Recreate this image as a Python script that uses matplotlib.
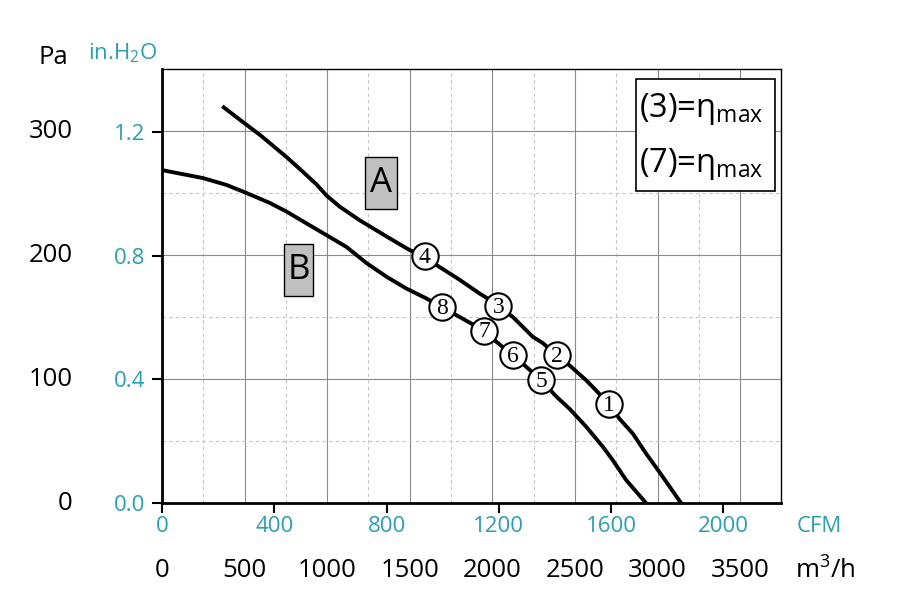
import numpy as np
import matplotlib
matplotlib.use("Agg")
import matplotlib.pyplot as plt
from matplotlib.patches import Rectangle
import matplotlib.transforms as mtransforms

plt.rcParams['font.family'] = ['Open Sans', 'DejaVu Sans']
plt.rcParams['mathtext.fontset'] = 'custom'
plt.rcParams['mathtext.rm'] = 'Open Sans'

TEAL = '#2a9db0'
CFM_TO_M3H = 1.699
INH2O_TO_PA = 249.09

# curve A (m3/h, Pa)
a_flow = [365, 502, 592, 754, 854, 935, 996, 1076, 1197, 1359, 1499, 1590, 1661,
          1802, 1922, 1983, 2037, 2124, 2245, 2305, 2392, 2467, 2568, 2648, 2703,
          2769, 2850, 2930, 3011, 3142]
a_pa = [320, 306, 297, 279, 267, 257, 248, 239, 228, 215, 204, 199, 192, 180, 169,
        164, 159, 150, 134, 129, 119, 111, 99, 88, 80, 68, 56, 40, 25, 0]

# curve B (m3/h, Pa)
b_flow = [0, 250, 391, 512, 653, 754, 875, 996, 1117, 1238, 1359, 1479, 1600, 1695,
          1802, 1949, 2024, 2126, 2195, 2296, 2386, 2467, 2568, 2668, 2729, 2810,
          2930]
b_pa = [268.5, 262, 256.5, 250, 242, 235, 225.5, 216, 206.5, 193.5, 182.5, 173,
        165, 158, 150, 139, 130, 119, 111, 99, 86, 76, 61.5, 45.5, 34.5, 18.5, 0]

# numbered operating points
pt_labels = ['1', '2', '3', '4', '5', '6', '7', '8']
pt_flow = [2703, 2392, 2037, 1590, 2296, 2126, 1949, 1695]
pt_pa = [80, 119, 159, 199, 99, 119, 139, 158]

# axis tick values
cfm_ticks = [0, 400, 800, 1200, 1600, 2000]
m3h_ticks = [0, 500, 1000, 1500, 2000, 2500, 3000, 3500]
inh2o_ticks = [0.0, 0.4, 0.8, 1.2]
pa_ticks = [0, 100, 200, 300]

fig = plt.figure(figsize=(9.07, 6.04), dpi=100)
ax = fig.add_axes([0.1786, 0.1672, 0.683, 0.7185])
ax.set_xlim(0, 3750)
ax.set_ylim(0, 350)

# grid
for x in np.arange(250, 3750, 500):
    ax.axvline(x, color='#c4c4c4', lw=0.8, ls=(0, (3, 3)), zorder=0)
for x in np.arange(500, 3750, 500):
    ax.axvline(x, color='#8a8a8a', lw=0.8, zorder=0)
for y in np.arange(50, 350, 100):
    ax.axhline(y, color='#c4c4c4', lw=0.8, ls=(0, (3, 3)), zorder=0)
for y in np.arange(100, 350, 100):
    ax.axhline(y, color='#8a8a8a', lw=0.8, zorder=0)

ax.plot(a_flow, a_pa, color='black', lw=2.8, zorder=2, solid_capstyle='butt')
ax.plot(b_flow, b_pa, color='black', lw=2.8, zorder=2, solid_capstyle='butt')

ax.plot(pt_flow, pt_pa, 'o', ms=19, mfc='white', mec='black', mew=1.5, zorder=3)
for lab, x, y in zip(pt_labels, pt_flow, pt_pa):
    ax.text(x, y - 1, lab, ha='center', va='center', fontsize=17,
            family='Liberation Serif', zorder=4)

# curve name boxes
ax.add_patch(Rectangle((1227, 237), 196, 42, fc='#c0c0c0', ec='black', lw=1, zorder=4))
ax.text(1325, 258, 'A', ha='center', va='center', fontsize=25, zorder=5)
ax.add_patch(Rectangle((740, 167), 175, 42, fc='#c0c0c0', ec='black', lw=1, zorder=4))
ax.text(827, 188, 'B', ha='center', va='center', fontsize=25, zorder=5)

# eta max box
ax.add_patch(Rectangle((0.7647, 0.7195), 0.2253, 0.2568, transform=ax.transAxes,
                       fc='white', ec='black', lw=1.2, zorder=5))
ax.text(0.770, 0.908, r'(3)=$\mathregular{η_{max}}$', transform=ax.transAxes,
        ha='left', va='center', fontsize=23.5, zorder=6)
ax.text(0.770, 0.782, r'(7)=$\mathregular{η_{max}}$', transform=ax.transAxes,
        ha='left', va='center', fontsize=23.5, zorder=6)

# spines
for s in ['left', 'bottom']:
    ax.spines[s].set_linewidth(2)
for s in ['top', 'right']:
    ax.spines[s].set_linewidth(1)

# in.H2O ticks on left, CFM ticks on bottom
ax.set_yticks([v * INH2O_TO_PA for v in inh2o_ticks])
ax.set_yticklabels(['%.1f' % v for v in inh2o_ticks], color=TEAL, fontsize=16)
ax.set_xticks([v * CFM_TO_M3H for v in cfm_ticks])
ax.set_xticklabels([str(v) for v in cfm_ticks], color=TEAL, fontsize=16)
ax.tick_params(axis='y', length=7, width=1.5, pad=5)
ax.tick_params(axis='x', length=7, width=1.5, pad=2)

# Pa labels
ytr = mtransforms.blended_transform_factory(ax.transAxes, ax.transData)
for v in pa_ticks:
    ax.text(-0.144, v, str(v), transform=ytr, ha='right', va='center',
            fontsize=18.5, clip_on=False)
ax.text(-0.176, 1.027, 'Pa', transform=ax.transAxes, ha='center', va='center',
        fontsize=18.5)
ax.text(-0.119, 1.037, r'in.$\mathregular{H_2O}$', transform=ax.transAxes,
        ha='left', va='center', fontsize=16, color=TEAL)

# m3/h labels
xtr = mtransforms.blended_transform_factory(ax.transData, ax.transAxes)
for v in m3h_ticks:
    ax.text(v, -0.156, str(v), transform=xtr, ha='center', va='center',
            fontsize=18.5, clip_on=False)
ax.text(1.025, -0.055, 'CFM', transform=ax.transAxes, ha='left', va='center',
        fontsize=16, color=TEAL)
ax.text(1.022, -0.156, r'$\mathregular{m^3}$/h', transform=ax.transAxes,
        ha='left', va='center', fontsize=18.5)

fig.savefig('out.png', dpi=100)
